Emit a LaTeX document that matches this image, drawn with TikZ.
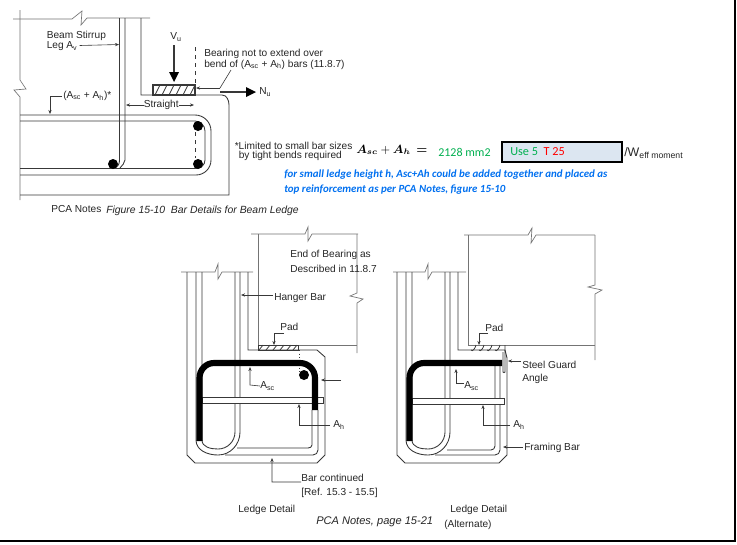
\documentclass[tikz,border=0pt]{standalone}
\usepackage{amsmath}
\usepackage{amssymb}
\usepackage{fontspec}
\setmainfont{Liberation Sans}
\newfontfamily\noteblue{Carlito}
\usetikzlibrary{arrows.meta}
\definecolor{drawn}{gray}{0.22}
\definecolor{bluenote}{HTML}{0070F0}
\definecolor{greennote}{HTML}{00B050}
\definecolor{boxfill}{HTML}{DCE6F1}
\tikzset{
  member/.style={draw=drawn,line width=0.65pt},
  thin member/.style={draw=drawn!70,line width=0.5pt},
  bar/.style={draw=black,line width=4.6pt},
  leader/.style={draw=drawn,line width=0.45pt,-{Stealth[length=3pt,width=2.4pt]}},
  label/.style={text=black!85,font=\fontsize{7.6}{9}\selectfont,inner sep=0pt,anchor=west},
  padhatch/.style={draw=drawn,line width=0.6pt},
  note/.style={inner sep=0pt,anchor=west,text=bluenote,font=\noteblue\fontsize{8.2}{10}\selectfont\bfseries\itshape},
}
\begin{document}
\begin{tikzpicture}[x=0.75pt,y=-0.75pt]
\useasboundingbox (0,0) rectangle (737,544);
% page
\fill[white] (0,0) rectangle (737,544);
\draw[black,line width=1.5pt] (735,0) -- (735,541) -- (0,541);
% Figure 15-10
\begin{scope}
  \draw[thin member] (20,10) -- (20,80) -- (26,89) -- (14,90) -- (20,97) -- (20,200);
  \draw[thin member] (13,19) -- (72,19) -- (82,11) -- (81,25) -- (87,18) -- (150,18);
  \draw[member] (141,18) -- (141,95) -- (222,95) to[out=0,in=90] (229,105) -- (229,195) -- (20,195);
  \draw[member] (119.5,18) -- (119.5,160) to[out=-90,in=0] (115,167);
  \draw[member] (125,18) -- (125,160) to[out=-90,in=60] (120,168);
  % top bar
  \draw[member] (20,115) -- (195,115) to[out=0,in=90] (211,131) -- (211,160) to[out=-90,in=0] (196,175) -- (20,175);
  \draw[member] (20,121) -- (195,121) to[out=0,in=90] (205,131) -- (205,160) to[out=-90,in=0] (196,168.5) -- (20,168.5);
  \fill[black] (198,126) circle (5);
  \fill[black] (198,164) circle (5);
  \fill[black] (113,164) circle (5);
  \draw[member,line width=0.8pt] (153,85) rectangle (195,95);
  \foreach \hx in {155,162,169,176,183,190}
    \draw[padhatch] (\hx,95) -- (\hx+5,85);
  \draw[member,dashed] (195,47) -- (195,85);
  \draw[member,dashed] (195,132) -- (195,158);
  \draw[member,line width=1.6pt] (174,45) -- (174,72);
  \fill[black] (169,72) -- (179,72) -- (174,82) -- cycle;
  \draw[member,line width=1.6pt] (220,92) -- (246,92);
  \fill[black] (246,87) -- (256,92) -- (246,97) -- cycle;
  \node[label] (vu) at (170,37) {V\textsubscript{u}};
  \node[label] (nu) at (259,92) {N\textsubscript{u}};
  \node[label] (bearing) at (204,54) {Bearing not to extend over};
  \node[label] (bendof) at (204,64.5) {bend of (A\textsubscript{sc} + A\textsubscript{h}) bars (11.8.7)};
  \coordinate (bearingkink) at (220,88);
  \coordinate (bearingtip) at (196,88);
  \draw[member,line width=0.45pt] (231,70) -- (bearingkink);
  \draw[leader] (bearingkink) -- (bearingtip);
  \node[label] (stirrup) at (46.5,36) {Beam Stirrup};
  \node[label] (stirrupleg) at (46.5,46.5) {Leg A\textsubscript{v}};
  \coordinate (stirruptip) at (119,44.5);
  \draw[leader] (stirrupleg.east) ++(2,-1) -- (stirruptip);
  \node[label] (ascah) at (63,96) {(A\textsubscript{sc} + A\textsubscript{h})*};
  \coordinate (ascahkink) at (50,96);
  \coordinate (ascahtip) at (50,114);
  \draw[leader] (ascah.west) ++(-1,0) -- (ascahkink) -- (ascahtip);
  \node[label] (straight) at (143.5,105) {Straight};
  \coordinate (straightl) at (126,105);
  \coordinate (straightr) at (194,105);
  \draw[leader] (straight.west) -- (straightl);
  \draw[leader] (straight.east) -- (straightr);
  \node[label] (limited) at (234.5,145.5) {*Limited to small bar sizes};
  \node[label] (tight) at (238.5,155.5) {by tight bends required};
  \node[label] (pcaa) at (51,209.5) {PCA Notes};
  \node[label,font=\fontsize{7.8}{9}\selectfont\itshape] (figcap) at (106,210.5) {Figure 15-10\ \ Bar Details for Beam Ledge};
\end{scope}
% note right of the figure
\node[inner sep=0pt,anchor=west,font=\fontsize{9}{10}\selectfont] (asum) at (356,150) {$\boldsymbol{A_{sc}}+\boldsymbol{A_h}\,\boldsymbol{=}$};
\node[inner sep=0pt,anchor=west,text=greennote,font=\noteblue\fontsize{9}{10}\selectfont] (area) at (438,152) {2128 mm2};
\node[draw=black,line width=1.5pt,fill=boxfill,minimum width=90pt,minimum height=15.5pt,anchor=west,inner sep=0pt] (usebox) at (501,152) {};
\node[inner sep=0pt,anchor=west,font=\noteblue\fontsize{9.2}{10}\selectfont] (usetxt) at (510,152) {\textcolor{greennote}{Use 5}\ \ \textcolor{red}{T 25}};
\node[label,anchor=west,font=\fontsize{9.3}{10}\selectfont] (perw) at (624,153) {/W\textsubscript{eff moment}};
\node[note] (small1) at (284,174.5) {for small ledge height h, Asc+Ah could be added together and placed as};
\node[note] (small2) at (284,189.5) {top reinforcement as per PCA Notes, figure 15-10};
% Ledge Detail
\begin{scope}
  \draw[thin member] (181,272) -- (215,272) -- (218,264) -- (218,279) -- (222,272) -- (253,272);
  \draw[member] (187,272) -- (187,455) -- (195,463) -- (317,463) -- (325,455) -- (325,357) -- (317,350) -- (248,350) -- (248,272);
  \draw[thin member] (251,234) -- (305,234) -- (308,227) -- (308,241) -- (312,234) -- (358,234);
  \draw[thin member] (258,234) -- (258,345);
  \draw[thin member] (357,234) -- (357,293) -- (350,296) -- (363,299) -- (357,303) -- (357,353);
  \draw[thin member] (258,345) -- (357,345);
  \draw[member] (258,345) rectangle (298,350);
  \foreach \hx in {259,266,273,280,287,293}
    \draw[padhatch] (\hx,350) -- (\hx+4,345);
  \draw[member,dotted] (299,350) -- (299,372);
  % stirrup and framing bar
  \draw[member] (196,272) -- (196,440) to[out=-90,in=180] (218,455) to[out=0,in=-90] (240,432) -- (240,272);
  \draw[member] (202,272) -- (202,440) to[out=-90,in=180] (218,449) to[out=0,in=-90] (235,432) -- (235,272);
  \draw[member] (225,455) -- (313,455) to[out=0,in=-90] (318,450) -- (318,410);
  \draw[member] (237,448) -- (308,448) to[out=0,in=-90] (312,445) -- (312,410);
  \draw[member,fill=white] (202,397) rectangle (323,403);
  \draw[bar] (199.5,441) -- (199.5,378) to[out=90,in=180] (214,363) -- (300,363) to[out=0,in=90] (315,378) -- (315,410);
  \fill[black] (304,375) circle (5);
  \node[label] (hanger) at (274,298) {Hanger Bar};
  \coordinate (hangertip) at (241,295);
  \draw[leader] (hanger.west) ++(-1,-3) -- (hangertip);
  \node[label] (padone) at (280,327) {Pad};
  \coordinate (padonekink) at (274,333);
  \coordinate (padonetip) at (274,345);
  \draw[leader] (284,333) -- (padonekink) -- (padonetip);
  \node[label] (ascone) at (260,386) {A\textsubscript{sc}};
  \coordinate (asconekink) at (250,385);
  \coordinate (asconetip) at (250,367);
  \draw[leader] (ascone.west) -- (asconekink) -- (asconetip);
  \coordinate (sideleft) at (321,380);
  \coordinate (sideright) at (341,380);
  \draw[leader] (sideright) -- (sideleft);
  \node[label] (ahone) at (333,425) {A\textsubscript{h}};
  \coordinate (ahonekink) at (299,425);
  \coordinate (ahonetip) at (299,404);
  \draw[leader] (ahone.west) ++(-3,0) -- (ahonekink) -- (ahonetip);
  \node[label] (barcont) at (301,478) {Bar continued};
  \node[label] (barref) at (301,493) {[Ref. 15.3 - 15.5]};
  \coordinate (barkink) at (272,482);
  \coordinate (bartip) at (272,458);
  \draw[leader] (barcont.south west) -- (barkink) -- (bartip);
  \node[label] (endbear) at (290,255) {End of Bearing as};
  \node[label] (endbeartwo) at (290,269) {Described in 11.8.7};
  \node[label] (ledgeone) at (238,510) {Ledge Detail};
\end{scope}
\node[label,font=\fontsize{8.3}{9}\selectfont\itshape] (pcab) at (316,522) {PCA Notes, page 15-21};
% Ledge Detail (Alternate)
\begin{scope}
  \draw[thin member] (393,272) -- (425,272) -- (428,264) -- (428,279) -- (432,272) -- (466,272);
  \draw[member] (397,272) -- (397,455) -- (405,463) -- (499,463) -- (507,455) -- (507,358) -- (505,350) -- (458,350) -- (458,272);
  \draw[thin member] (464,235) -- (528,235) -- (532,228) -- (531,243) -- (536,235) -- (595,235);
  \draw[thin member] (468,235) -- (468,345);
  \draw[thin member] (595,235) -- (595,285) -- (588,287) -- (602,290) -- (595,294) -- (595,360);
  \draw[thin member] (468,345) -- (595,345);
  \foreach \hx in {471,479,487,495}
    \draw[padhatch] (\hx,350) to[out=-60,in=-100] (\hx+5,345);
  \draw[member] (505,345) -- (505,372) to[out=-90,in=-90] (503,372) -- (503,352);
  % stirrup and framing bar
  \draw[member] (406,272) -- (406,440) to[out=-90,in=180] (428,455) to[out=0,in=-90] (450,432) -- (450,272);
  \draw[member] (412,272) -- (412,440) to[out=-90,in=180] (428,449) to[out=0,in=-90] (445,432) -- (445,272);
  \draw[member] (435,455) -- (495,455) to[out=0,in=-90] (500,450) -- (500,366);
  \draw[member] (447,450) -- (491,450) to[out=0,in=-90] (495,446) -- (495,366);
  \draw[member,fill=white] (412,398) rectangle (504,404);
  \draw[bar] (409.5,441) -- (409.5,378) to[out=90,in=180] (424,363) -- (502,363);
  \node[label] (padtwo) at (485,328) {Pad};
  \coordinate (padtwokink) at (479,333);
  \coordinate (padtwotip) at (479,345);
  \draw[leader] (488,333) -- (padtwokink) -- (padtwotip);
  \node[label] (asctwo) at (464,386) {A\textsubscript{sc}};
  \coordinate (asctwokink) at (456,383);
  \coordinate (asctwotip) at (456,369);
  \draw[leader] (asctwo.west) ++(0,-3) -- (asctwokink) -- (asctwotip);
  \node[label] (steel) at (522,365) {Steel Guard};
  \node[label] (guard) at (522,379) {Angle};
  \coordinate (steeltip) at (508,361);
  \draw[leader] (steel.west) ++(-1,-4) -- (steeltip);
  \node[label] (ahtwo) at (513,425) {A\textsubscript{h}};
  \coordinate (ahtwokink) at (483,425);
  \coordinate (ahtwotip) at (483,405);
  \draw[leader] (ahtwo.west) ++(-3,0) -- (ahtwokink) -- (ahtwotip);
  \node[label] (framing) at (524,448) {Framing Bar};
  \coordinate (framingtip) at (503,447);
  \draw[leader] (framing.west) ++(-1,-1) -- (framingtip);
  \node[label] (ledgetwo) at (450,510) {Ledge Detail};
  \node[label] (alternate) at (444,525) {(Alternate)};
\end{scope}
\end{tikzpicture}
\end{document}
